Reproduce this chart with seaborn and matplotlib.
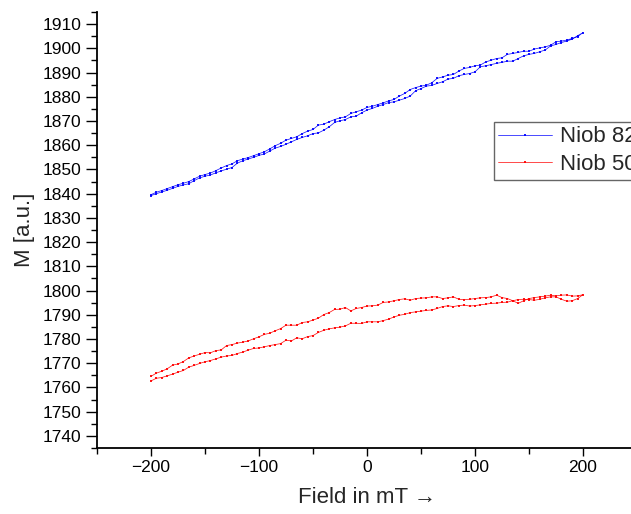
import numpy as np
import pandas as pd
import seaborn as sns
import matplotlib
matplotlib.use("Agg")
import matplotlib.pyplot as plt
from matplotlib.ticker import MultipleLocator

# field steps of the sweep (mT), 5 mT apart
field = np.arange(-200, 201, 5)

# Niob 82, branch measured upward (-200 -> 200)
niob82_up = [1839.2, 1840.0, 1840.7, 1841.4, 1842.2, 1843.0, 1843.6, 1844.1, 1845.4, 1846.5,
             1847.2, 1847.7, 1848.6, 1849.4, 1850.1, 1850.8, 1852.6, 1853.6, 1854.3, 1855.0,
             1855.8, 1856.4, 1857.6, 1858.8, 1859.5,
             1860.4, 1861.4, 1862.4, 1863.2, 1863.9, 1864.8, 1865.1, 1866.2, 1867.6, 1869.4,
             1870.1, 1870.6, 1871.7, 1872.0, 1873.4, 1874.5, 1875.2, 1876.1, 1876.8, 1877.6,
             1877.9, 1878.6, 1879.3, 1880.3, 1882.5, 1883.4, 1884.4,
             1884.7, 1885.5, 1886.2, 1887.3, 1887.6, 1888.7, 1889.2, 1889.6, 1890.3, 1892.4,
             1892.8, 1893.3, 1893.8, 1894.2, 1894.7, 1894.7, 1895.8, 1896.9, 1897.5, 1897.9,
             1898.6, 1899.3, 1901.0, 1901.6, 1902.4, 1903.0, 1903.8, 1905.2, 1906.5]
# Niob 82, branch measured downward (listed from -200 to 200)
niob82_down = [1839.6, 1840.6, 1841.3, 1842.1, 1842.9, 1843.7, 1844.3, 1845.0, 1846.1, 1847.2,
               1847.9, 1848.5, 1849.5, 1850.6, 1851.6, 1852.3, 1853.6, 1854.3, 1854.9, 1855.7,
               1856.5, 1857.3, 1858.5, 1859.8, 1860.8,
               1862.1, 1862.8, 1863.5, 1864.8, 1865.8, 1866.5, 1868.3, 1868.7, 1869.7, 1870.6,
               1871.3, 1871.7, 1873.1, 1873.8, 1874.5, 1875.6, 1876.1, 1876.8, 1877.5, 1878.3,
               1878.9, 1880.3, 1881.4, 1883.0, 1883.8, 1884.4, 1884.8,
               1885.8, 1887.6, 1888.2, 1888.9, 1889.2, 1890.6, 1891.7, 1892.1, 1892.8, 1893.1,
               1894.4, 1895.1, 1895.8, 1896.1, 1897.5, 1897.9, 1898.3, 1898.8, 1898.8, 1899.7,
               1900.2, 1900.6, 1901.3, 1902.7, 1903.0, 1903.4, 1904.1, 1904.8, 1906.5]

# Niob 50, branch measured upward (-200 -> 200)
niob50_up = [1762.7, 1763.8, 1764.1, 1764.8, 1765.5, 1766.3, 1767.0, 1768.4, 1769.1, 1769.9,
             1770.6, 1771.1, 1771.8, 1772.5, 1773.0, 1773.2, 1774.0, 1774.6, 1775.4, 1776.1,
             1776.3, 1776.8, 1777.3, 1777.7, 1778.1, 1779.5,
             1779.2, 1780.5, 1780.1, 1781.0, 1781.4, 1782.7, 1783.6, 1784.2, 1784.6, 1784.9,
             1785.4, 1786.5, 1786.5, 1786.4, 1787.1, 1787.1, 1787.1, 1787.6, 1788.2, 1789.1,
             1789.8, 1790.2, 1790.9, 1791.2, 1791.5, 1791.8,
             1792.0, 1792.6, 1793.4, 1793.7, 1793.4, 1793.8, 1794.0, 1793.6, 1793.8, 1794.1,
             1794.4, 1794.7, 1794.8, 1795.1, 1795.2, 1795.8, 1796.3, 1796.4, 1796.3, 1796.0,
             1796.4, 1797.0, 1797.4, 1797.4, 1796.4, 1795.6, 1795.8, 1796.7, 1798.3]
# Niob 50, branch measured downward (listed from -200 to 200)
niob50_down = [1764.6, 1765.9, 1766.7, 1767.7, 1769.2, 1769.7, 1770.7, 1772.2, 1773.0, 1773.7,
               1774.4, 1774.3, 1775.2, 1775.5, 1777.3, 1777.7, 1778.3, 1778.7, 1779.2, 1780.1,
               1780.9, 1781.9, 1782.4, 1783.4, 1784.3, 1785.7,
               1785.7, 1785.7, 1786.8, 1787.1, 1787.8, 1788.6, 1790.1, 1790.9, 1792.2, 1792.3,
               1793.0, 1791.6, 1792.6, 1793.0, 1793.6, 1793.7, 1794.0, 1795.1, 1795.3, 1795.8,
               1796.3, 1796.6, 1796.0, 1796.7, 1796.9, 1797.0,
               1797.4, 1797.4, 1796.7, 1797.0, 1797.4, 1796.4, 1796.3, 1796.4, 1796.7, 1797.0,
               1797.1, 1797.4, 1798.1, 1797.1, 1796.7, 1795.8, 1794.7, 1795.8, 1796.7, 1797.1,
               1797.4, 1797.7, 1798.1, 1797.8, 1798.1, 1798.2, 1797.7, 1797.8, 1798.3]

samples = ["Niob 82", "Niob 50"]
colors = {"Niob 82": "#0000ff", "Niob 50": "#ff0000"}


def loop(name, up, down):
    # full sweep: up from -200 to 200, then back down to -200
    x = list(field) + list(field[-2::-1])
    y = list(up) + list(down[-2::-1])
    return pd.DataFrame({"field": x, "M": y, "sample": name})


df = pd.concat([loop("Niob 82", niob82_up, niob82_down),
                loop("Niob 50", niob50_up, niob50_down)], ignore_index=True)

sns.set_style("ticks")
plt.rcParams["font.family"] = ["Liberation Sans", "DejaVu Sans"]
plt.rcParams["xtick.direction"] = "out"
plt.rcParams["ytick.direction"] = "out"

fig = plt.figure(figsize=(6.31, 5.14), dpi=100)
ax = fig.add_axes([97 / 631, 66 / 514, 540 / 631, 436 / 514])

sns.lineplot(data=df, x="field", y="M", hue="sample", hue_order=samples, palette=colors,
             sort=False, estimator=None, marker="s", markersize=2.1, markeredgewidth=0,
             linewidth=0.55, alpha=0.9, ax=ax)

ax.set_xlim(-250, 250)
ax.set_ylim(1735, 1915)
ax.xaxis.set_major_locator(MultipleLocator(100))
ax.xaxis.set_minor_locator(MultipleLocator(50))
ax.yaxis.set_major_locator(MultipleLocator(10))
ax.yaxis.set_minor_locator(MultipleLocator(5))
ax.tick_params(which="major", length=6, width=1, labelsize=12.5, colors="black", pad=3)
ax.tick_params(axis="y", which="major", length=8)
ax.tick_params(which="minor", length=4, width=1, colors="black")
sns.despine(ax=ax)
for s in ["left", "bottom"]:
    ax.spines[s].set_linewidth(1.3)
    ax.spines[s].set_color("black")

ax.set_xlabel("Field in mT \u2192", fontsize=16, labelpad=8)
ax.set_ylabel("M [a.u.]", fontsize=16, labelpad=6)

handles, labels = ax.get_legend_handles_labels()
leg = ax.legend(handles, labels, loc="upper left", bbox_to_anchor=(494 / 631, 1 - 122 / 514),
                bbox_transform=fig.transFigure, fontsize=16, frameon=True, fancybox=False,
                borderpad=0.2, labelspacing=0.3, handlelength=2.4, handletextpad=0.35,
                borderaxespad=0, numpoints=1)
leg.get_frame().set_edgecolor("#404040")
leg.get_frame().set_linewidth(1.0)

fig.savefig("out.png", dpi=100)
